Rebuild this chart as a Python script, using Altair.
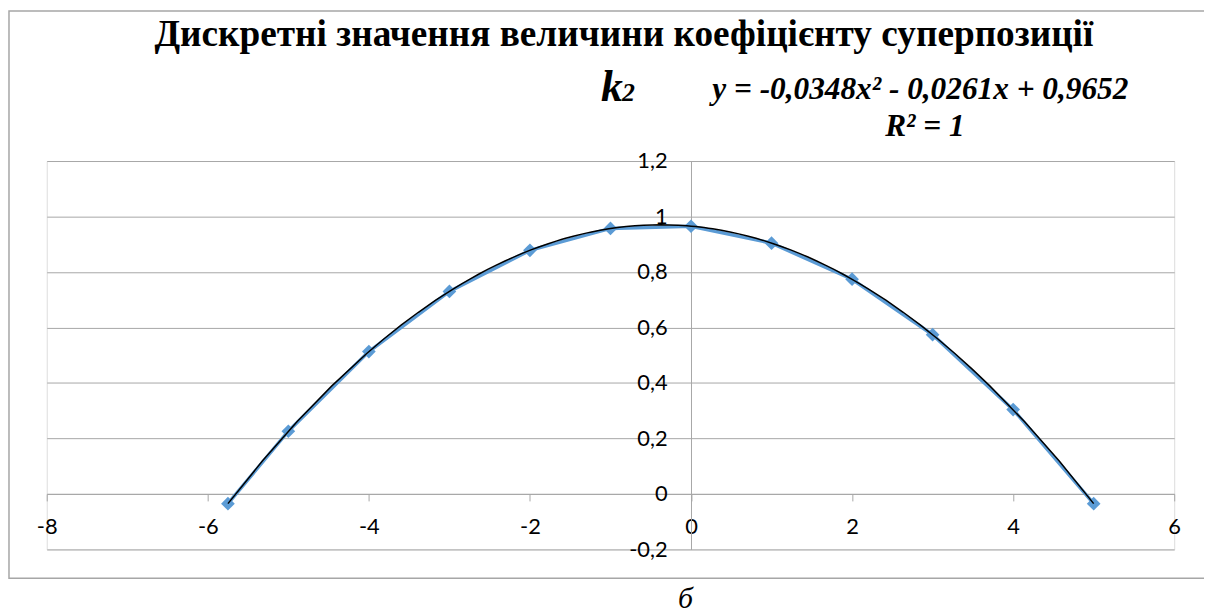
import altair as alt
import pandas as pd

# ---- data ----
x_values = [-5.75, -5, -4, -3, -2, -1, 0, 1, 2, 3, 4, 5]
k2_values = [-0.035, 0.226, 0.513, 0.730, 0.878, 0.957, 0.965, 0.904, 0.774, 0.574, 0.304, -0.035]
x_ticks = [-8, -6, -4, -2, 0, 2, 4, 6]
y_ticks = [-0.2, 0, 0.2, 0.4, 0.6, 0.8, 1.0, 1.2]

title_text = "Дискретні значення величини коефіцієнту суперпозиції"
k_text = "k"
k_sub_text = "2"
equation_text = "y = -0,0348x² - 0,0261x + 0,9652"
r2_text = "R² = 1"
caption_text = "б"

df = pd.DataFrame({"x": x_values, "y": k2_values})

W, H = 1135, 391
X_DOM = [-8, 6]
Y_DOM = [-0.2, 1.2]
GRAY = "#A6A6A6"
BLUE = "#5B9BD5"
LABEL_FONT = "Lato, 'Open Sans', sans-serif"
SERIF = "Times New Roman, Liberation Serif, DejaVu Serif, Noto Serif, serif"

x_zero_px = W * (0 - X_DOM[0]) / (X_DOM[1] - X_DOM[0])
y_zero_from_bottom = H * (0 - Y_DOM[0]) / (Y_DOM[1] - Y_DOM[0])

label_expr = "replace(replace(format(datum.value, '.1~f'), '.', ','), '\u2212', '-')"

x_scale = alt.Scale(domain=X_DOM, nice=False, zero=False)
y_scale = alt.Scale(domain=Y_DOM, nice=False, zero=False)

x_axis = alt.Axis(
    values=x_ticks, title=None, grid=False, offset=-y_zero_from_bottom,
    domainColor=GRAY, domainWidth=1, tickColor=GRAY, tickWidth=1, tickSize=7,
    labelFont=LABEL_FONT, labelFontSize=22, labelColor="black", labelPadding=16,
    labelExpr=label_expr, labelFlush=False,
)
y_axis = alt.Axis(
    values=y_ticks, title=None, grid=True, gridColor=GRAY, gridWidth=1,
    offset=-x_zero_px, domainColor=GRAY, domainWidth=1, ticks=False, tickSize=0,
    labelFont=LABEL_FONT, labelFontSize=22, labelColor="black", labelPadding=24,
    labelAlign="right", labelBaseline="middle", labelExpr=label_expr, labelFlush=False,
)

base = alt.Chart(df)

line = base.mark_line(color=BLUE, strokeWidth=3.5).encode(
    x=alt.X("x:Q", scale=x_scale, axis=x_axis),
    y=alt.Y("y:Q", scale=y_scale, axis=y_axis),
)
points = base.mark_point(shape="diamond", filled=True, color=BLUE, size=190, opacity=1).encode(
    x=alt.X("x:Q", scale=x_scale),
    y=alt.Y("y:Q", scale=y_scale),
)
trend = base.transform_regression(
    "x", "y", method="poly", order=2, extent=[x_values[0], x_values[-1]]
).mark_line(color="black", strokeWidth=1.5).encode(
    x=alt.X("x:Q", scale=x_scale),
    y=alt.Y("y:Q", scale=y_scale),
)

one = alt.Data(values=[{}])

border = alt.Chart(one).mark_rect(fill=None, stroke=GRAY, strokeWidth=1.5).encode(
    x=alt.value(-38), x2=alt.value(1200), y=alt.value(-151), y2=alt.value(420)
)

def txt(text, x, y, size, weight="normal", style="normal", align="center"):
    return alt.Chart(one).mark_text(
        font=SERIF, fontSize=size, fontWeight=weight, fontStyle=style,
        align=align, baseline="alphabetic", color="black",
    ).encode(x=alt.value(x), y=alt.value(y), text=alt.value(text))

title = txt(title_text, 581, -116, 37.5, weight="bold")
k_mark = txt(k_text, 558, -60, 44, weight="bold", style="italic", align="left")
k_sub = txt(k_sub_text, 579, -60, 26, weight="bold", style="italic", align="left")
equation = txt(equation_text, 670, -62, 31.5, weight="bold", style="italic", align="left")
r2 = txt(r2_text, 884, -25, 31.5, weight="bold", style="italic")
caption = txt(caption_text, 643, 450, 30, style="italic")

chart = alt.layer(
    border, line, points, trend, title, k_mark, k_sub, equation, r2, caption
).properties(
    width=W, height=H,
    autosize=alt.AutoSizeParams(type="none"),
    padding={"left": 39, "top": 152, "right": 30, "bottom": 70},
).configure_view(stroke=None).configure(background="white")

chart.save("out.html", embed_options={"renderer": "svg", "actions": False})
